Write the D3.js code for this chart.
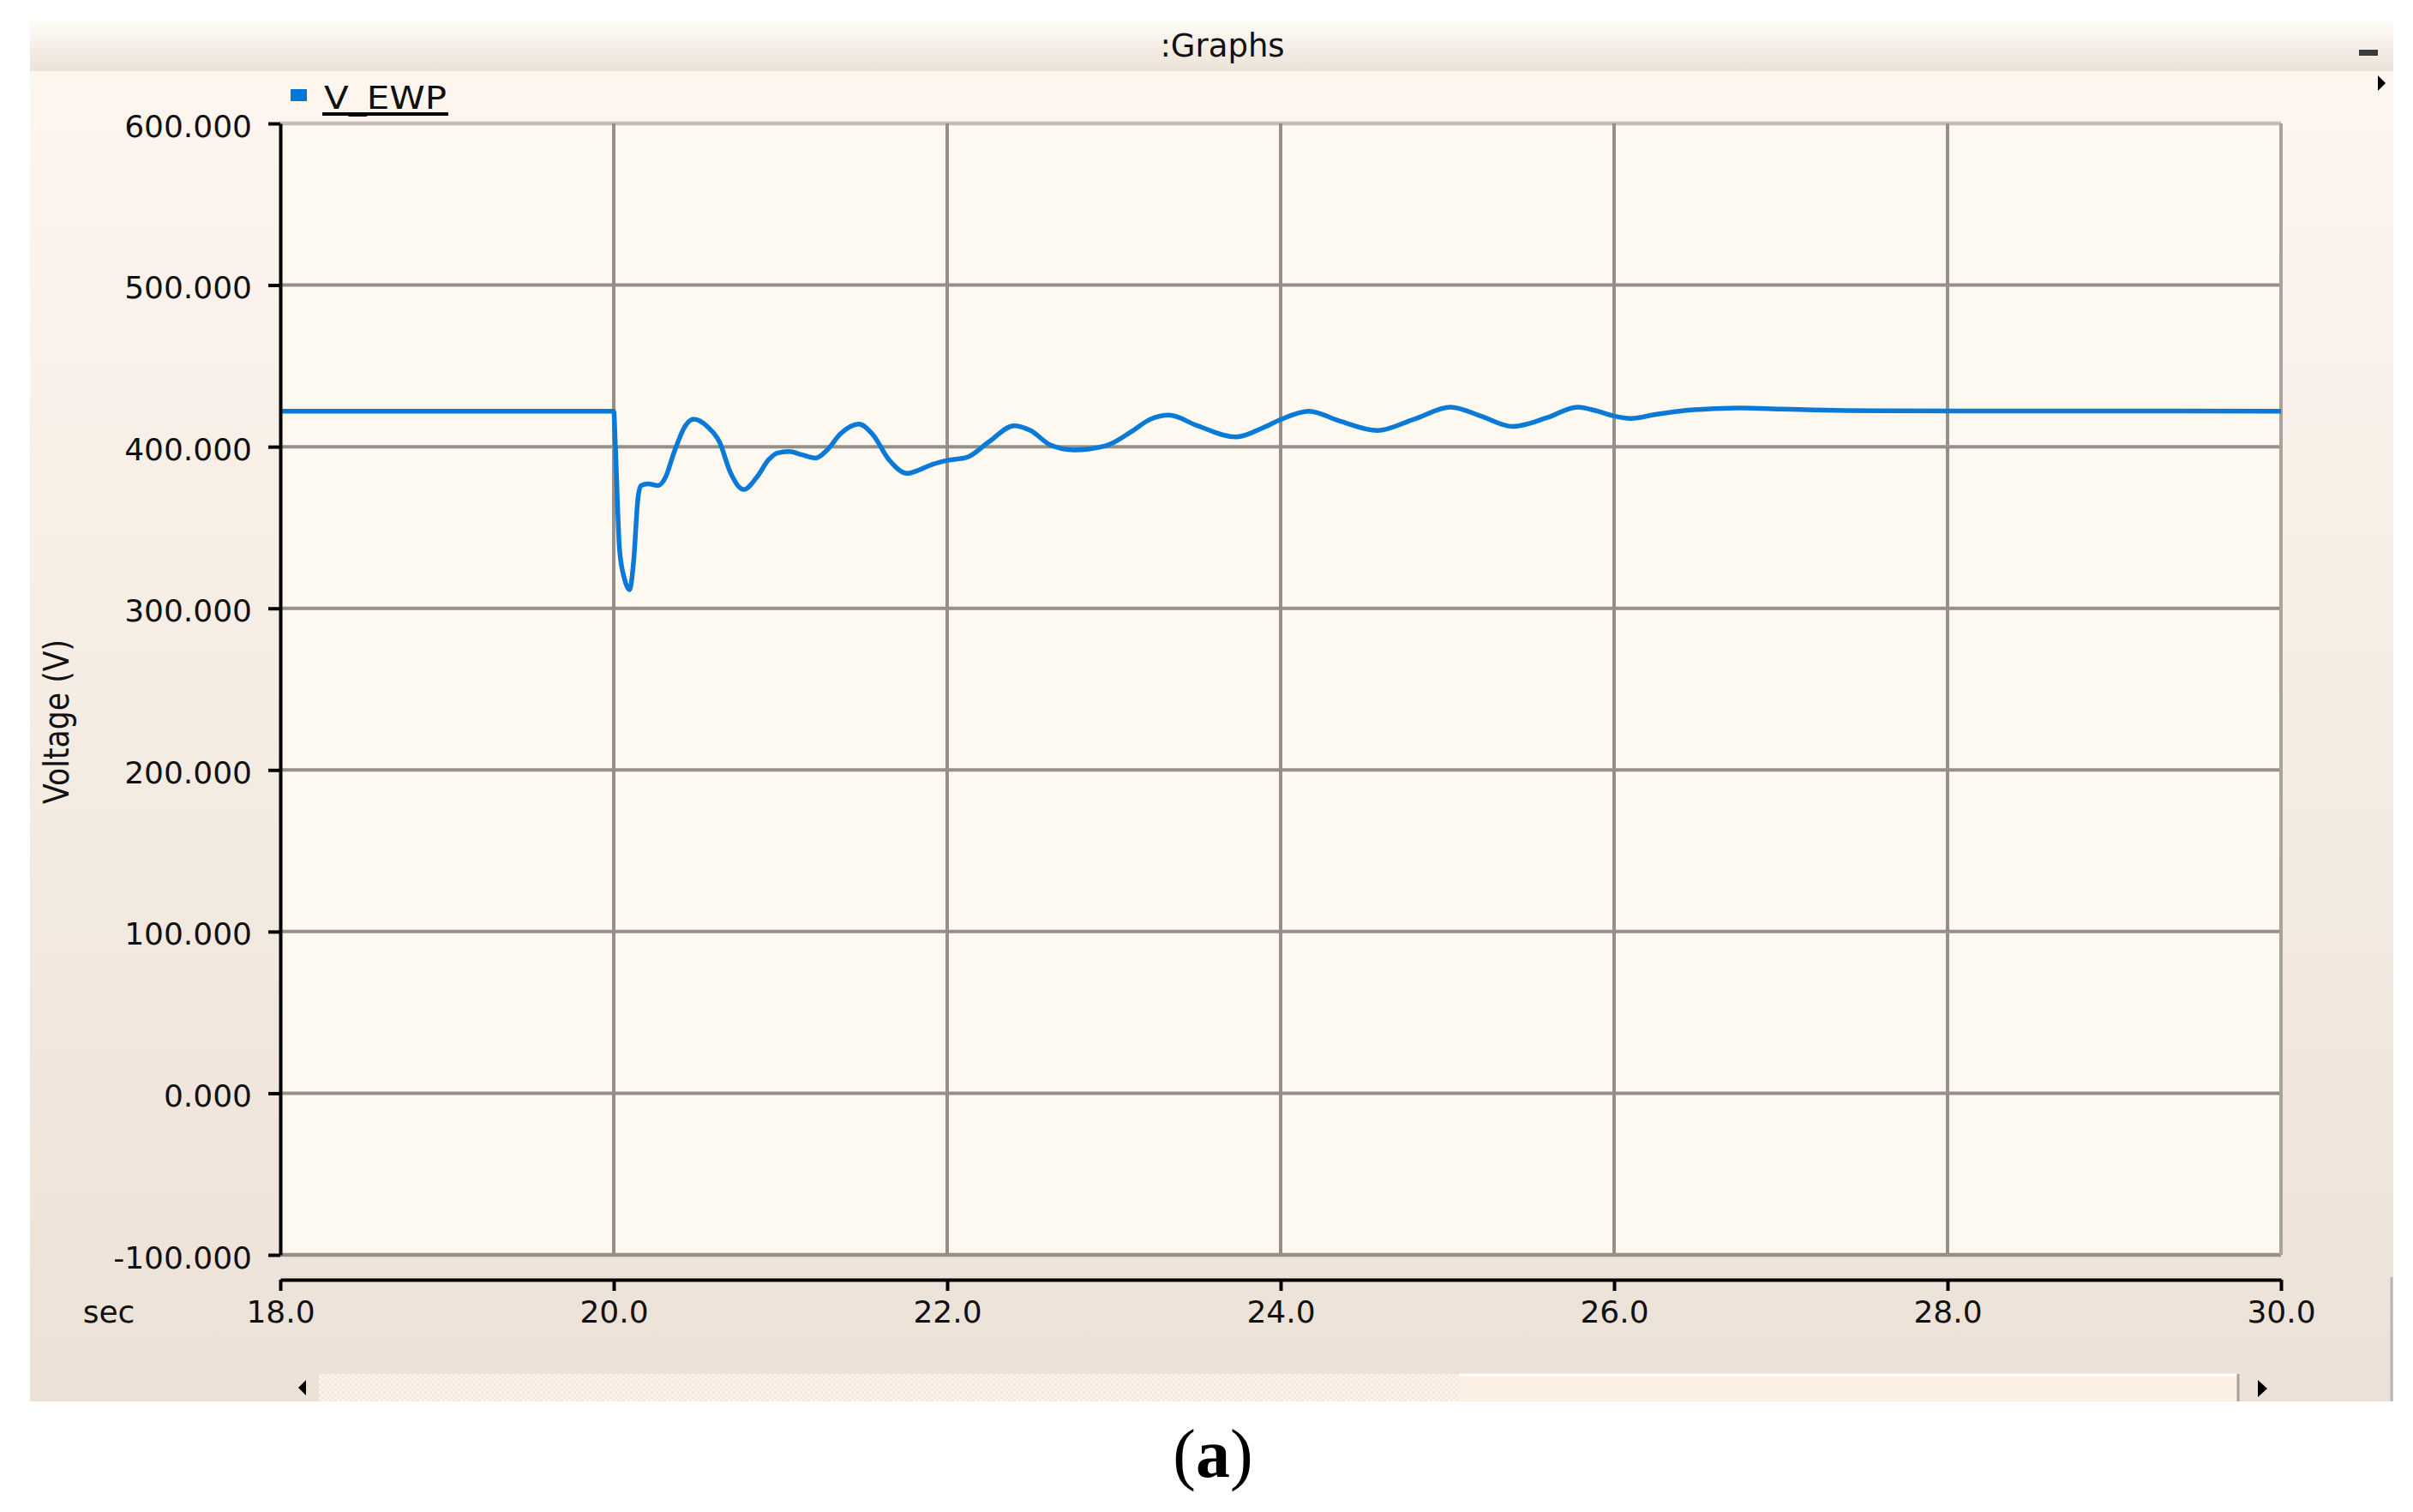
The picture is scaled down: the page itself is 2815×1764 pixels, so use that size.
<!DOCTYPE html>
<html>
<head>
<meta charset="utf-8">
<script src="https://cdn.jsdelivr.net/npm/d3@7"></script>
<style>
    body { margin: 0; background: #fff; }
    svg { display: block; }
</style>
</head>
<body>
<div id="chart"></div>
<script>
const seriesName = 'V_EWP';
const xTicks = [18, 20, 22, 24, 26, 28, 30];
const yTicks = [-100, 0, 100, 200, 300, 400, 500, 600];

const timeSec = [
    18.0, 20.0, 20.01, 20.035, 20.065, 20.094, 20.12, 20.145, 20.163, 20.206,
    20.266, 20.31, 20.36, 20.43, 20.48, 20.566, 20.634, 20.70, 20.78, 20.857,
    20.93, 20.98, 21.05, 21.13, 21.21, 21.28, 21.36, 21.47, 21.55, 21.65,
    21.76, 21.84, 21.91, 22.0, 22.12, 22.25, 22.40, 22.50, 22.62, 22.76,
    22.95, 23.1, 23.22, 23.33, 23.5, 23.73, 23.9, 24.0, 24.17, 24.35,
    24.58, 24.8, 25.02, 25.2, 25.39, 25.6, 25.78, 25.9, 26.0, 26.1,
    26.25, 26.39, 26.6, 26.75, 27.0, 27.2, 27.6, 30.0
];
const voltage = [
    422, 422, 400, 336, 318, 311.5, 330, 368, 376, 377,
    376, 381, 396, 413, 417, 412, 403, 384, 373.5, 381,
    392, 396, 397, 395, 393, 398, 408, 414, 408, 392,
    383.5, 386, 389, 391.5, 393.5, 403, 413, 410, 401, 398,
    400.5, 409, 417, 419.5, 413, 406, 412, 416.8, 422, 416,
    410, 417, 424.5, 419, 412.5, 418, 424.5, 422, 419, 417.5,
    420, 422, 423.5, 424, 423.3, 422.7, 422.2, 422
];

const W = 2815, H = 1764;
const plot = { left: 327, right: 2661, top: 144, bottom: 1464 };
const font = 'DejaVu Sans, Verdana, sans-serif';

// plain hyphen for negatives, like the original tool
const locale = d3.formatLocale({ decimal: '.', thousands: ',', grouping: [3], currency: ['', ''], minus: '-' });

let svg = d3.select('#chart').append('svg')
    .attr('width', W)
    .attr('height', H);

let defs = svg.append('defs');

let barGrad = defs.append('linearGradient')
    .attr('id', 'barGrad')
    .attr('x1', 0).attr('y1', 0).attr('x2', 0).attr('y2', 1);
barGrad.append('stop').attr('offset', '0%').attr('stop-color', '#fefbf7');
barGrad.append('stop').attr('offset', '100%').attr('stop-color', '#ece2d8');

let panelGrad = defs.append('linearGradient')
    .attr('id', 'panelGrad')
    .attr('x1', 0).attr('y1', 0).attr('x2', 0).attr('y2', 1);
panelGrad.append('stop').attr('offset', '0%').attr('stop-color', '#fdf6ee');
panelGrad.append('stop').attr('offset', '100%').attr('stop-color', '#ece1d7');

let checker = defs.append('pattern')
    .attr('id', 'checker')
    .attr('width', 6).attr('height', 6)
    .attr('patternUnits', 'userSpaceOnUse');
checker.append('rect').attr('width', 6).attr('height', 6).attr('fill', '#fbf3ec');
checker.append('rect').attr('width', 3).attr('height', 3).attr('fill', '#f5e8de');
checker.append('rect').attr('x', 3).attr('y', 3).attr('width', 3).attr('height', 3).attr('fill', '#f5e8de');

defs.append('clipPath')
    .attr('id', 'plotClip')
    .append('rect')
        .attr('x', plot.left)
        .attr('y', plot.top)
        .attr('width', plot.right - plot.left)
        .attr('height', plot.bottom - plot.top);

// window frame
svg.append('rect')
    .attr('x', 35).attr('y', 83)
    .attr('width', 2792 - 35).attr('height', 1635 - 83)
    .attr('fill', 'url(#panelGrad)');

svg.append('rect')
    .attr('x', 35).attr('y', 25)
    .attr('width', 2792 - 35).attr('height', 58)
    .attr('fill', 'url(#barGrad)');

svg.append('text')
    .attr('x', 1426)
    .attr('y', 66)
    .attr('text-anchor', 'middle')
    .style('font-family', font)
    .style('font-size', '37px')
    .style('fill', '#111')
    .text(':Graphs');

svg.append('rect')
    .attr('x', 2752).attr('y', 58)
    .attr('width', 22).attr('height', 7)
    .attr('fill', '#3a3a3a');

svg.append('path')
    .attr('d', 'M2774,88 L2783,97 L2774,106 Z')
    .attr('fill', '#000');

svg.append('line')
    .attr('x1', 2790).attr('x2', 2790)
    .attr('y1', 1490).attr('y2', 1635)
    .attr('stroke', '#bdb5ad')
    .attr('stroke-width', 3);

let x = d3.scaleLinear()
    .domain([18, 30])
    .range([plot.left, plot.right]);

let y = d3.scaleLinear()
    .domain([-100, 600])
    .range([plot.bottom, plot.top]);

// plot area
svg.append('rect')
    .attr('x', plot.left)
    .attr('y', plot.top)
    .attr('width', plot.right - plot.left)
    .attr('height', plot.bottom - plot.top)
    .attr('fill', '#fef9f0');

let grid = svg.append('g');

grid.selectAll('.hgrid')
    .data(yTicks)
    .enter()
    .append('line')
        .attr('x1', plot.left)
        .attr('x2', plot.right)
        .attr('y1', d => y(d))
        .attr('y2', d => y(d))
        .attr('stroke', d => d === 600 ? '#c4bcb4' : '#968f87')
        .attr('stroke-width', d => (d === 600 || d === -100) ? 4.5 : 4);

grid.selectAll('.vgrid')
    .data(xTicks.slice(1))
    .enter()
    .append('line')
        .attr('x1', d => x(d))
        .attr('x2', d => x(d))
        .attr('y1', plot.top)
        .attr('y2', plot.bottom)
        .attr('stroke', d => d === 30 ? '#aaa39c' : '#968f87')
        .attr('stroke-width', 4);

let data = timeSec.map((t, i) => ({ t: t, v: voltage[i] }));

let line = d3.line()
    .x(d => x(d.t))
    .y(d => y(d.v))
    .curve(d3.curveMonotoneX);

svg.append('path')
    .datum(data)
    .attr('clip-path', 'url(#plotClip)')
    .attr('fill', 'none')
    .attr('stroke', '#0a7ad6')
    .attr('stroke-width', 5.5)
    .attr('stroke-linejoin', 'round')
    .attr('d', line);

// axes
let yAxis = svg.append('g')
    .attr('transform', `translate(${plot.left},0)`)
    .call(d3.axisLeft(y)
        .tickValues(yTicks)
        .tickFormat(locale.format('.3f'))
        .tickSize(14)
        .tickSizeOuter(0)
        .tickPadding(19));

yAxis.select('.domain')
    .attr('stroke', '#000')
    .attr('stroke-width', 4);
yAxis.selectAll('.tick line')
    .attr('stroke', '#000')
    .attr('stroke-width', 4);
yAxis.selectAll('.tick text')
    .attr('dy', '0.42em')
    .style('font-family', font)
    .style('font-size', '36px')
    .style('fill', '#111');

let xAxis = svg.append('g')
    .attr('transform', 'translate(0,1493)')
    .call(d3.axisBottom(x)
        .tickValues(xTicks)
        .tickFormat(locale.format('.1f'))
        .tickSize(13)
        .tickSizeOuter(0)
        .tickPadding(11));

xAxis.select('.domain')
    .attr('stroke', '#000')
    .attr('stroke-width', 4);
xAxis.selectAll('.tick line')
    .attr('stroke', '#000')
    .attr('stroke-width', 4);
xAxis.selectAll('.tick text')
    .style('font-family', font)
    .style('font-size', '36px')
    .style('fill', '#111');

svg.append('text')
    .attr('x', 127)
    .attr('y', 1543)
    .attr('text-anchor', 'middle')
    .style('font-family', font)
    .style('font-size', '36px')
    .style('fill', '#111')
    .text('sec');

svg.append('text')
    .attr('transform', 'translate(80,842) rotate(-90)')
    .attr('text-anchor', 'middle')
    .attr('textLength', 192)
    .attr('lengthAdjust', 'spacingAndGlyphs')
    .style('font-family', font)
    .style('font-size', '40px')
    .style('fill', '#111')
    .text('Voltage (V)');

// legend
svg.append('rect')
    .attr('x', 339).attr('y', 104)
    .attr('width', 19).attr('height', 14)
    .attr('fill', '#0078d7');

svg.append('text')
    .attr('x', 378)
    .attr('y', 127)
    .attr('textLength', 143)
    .attr('lengthAdjust', 'spacingAndGlyphs')
    .style('font-family', font)
    .style('font-size', '38px')
    .style('fill', '#111')
    .text(seriesName);

svg.append('line')
    .attr('x1', 376).attr('x2', 523)
    .attr('y1', 133).attr('y2', 133)
    .attr('stroke', '#000')
    .attr('stroke-width', 4);

// scrollbar
svg.append('rect')
    .attr('x', 372).attr('y', 1603)
    .attr('width', 2612 - 372).attr('height', 32)
    .attr('fill', 'url(#checker)');

svg.append('rect')
    .attr('x', 1702).attr('y', 1603)
    .attr('width', 2612 - 1702).attr('height', 32)
    .attr('fill', '#fcefe4');

svg.append('line')
    .attr('x1', 1702).attr('x2', 2610)
    .attr('y1', 1604).attr('y2', 1604)
    .attr('stroke', '#fff')
    .attr('stroke-width', 3);

svg.append('line')
    .attr('x1', 2611).attr('x2', 2611)
    .attr('y1', 1603).attr('y2', 1635)
    .attr('stroke', '#aaa39d')
    .attr('stroke-width', 3);

svg.append('path')
    .attr('d', 'M357,1610 L348,1619 L357,1628 Z')
    .attr('fill', '#000');

svg.append('path')
    .attr('d', 'M2634,1610 L2645,1620 L2634,1630 Z')
    .attr('fill', '#000');

// caption
let caption = svg.append('text')
    .attr('x', 1415)
    .attr('y', 1723)
    .attr('text-anchor', 'middle')
    .style('font-family', 'Liberation Serif, Times New Roman, serif')
    .style('font-size', '80px')
    .style('fill', '#000');
caption.append('tspan').text('(');
caption.append('tspan').style('font-weight', 'bold').text('a');
caption.append('tspan').text(')');
</script>
</body>
</html>
